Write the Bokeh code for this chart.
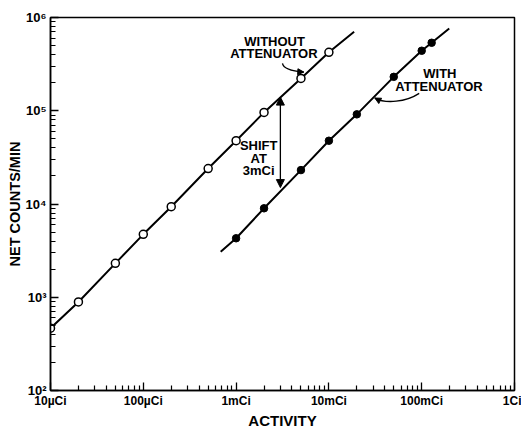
from bokeh.plotting import figure
from bokeh.models import FixedTicker, CustomJSTickFormatter, Arrow, NormalHead
from bokeh.embed import file_html
from bokeh.resources import INLINE
from bokeh.core.properties import value

# ---------------- data (activity in mCi, counts per minute) ----------------
act_without = [0.01, 0.02, 0.05, 0.1, 0.2, 0.5, 1, 2, 5, 10]
counts_without = [466, 890, 2310, 4730, 9350, 24000, 47700, 96000, 222000, 423000]

act_with = [1, 2, 5, 10, 20, 50, 100, 128]
counts_with = [4290, 8990, 23100, 47700, 91500, 231000, 440000, 536000]

# drawn curves: through the points, extended at the ends
line_without_x = act_without + [18.7]
line_without_y = counts_without + [703000]
line_with_x = [0.682] + act_with + [198]
line_with_y = [3080] + counts_with + [764000]

x_ticks = [0.01, 0.1, 1, 10, 100, 1000]
x_tick_labels = ["10µCi", "100µCi", "1mCi", "10mCi", "100mCi", "1Ci"]
y_ticks = [1e2, 1e3, 1e4, 1e5, 1e6]
y_tick_labels = ["10²", "10³", "10⁴", "10⁵", "10⁶"]

shift_at = 3          # mCi
shift_top = 1.4e5
shift_bottom = 1.5e4

FONT = "Liberation Sans"

p = figure(width=521, height=431, x_axis_type="log", y_axis_type="log",
           x_range=(0.01, 1000), y_range=(100, 1e6),
           output_backend="svg", toolbar_location=None,
           min_border_left=50, min_border_right=7, min_border_top=17,
           min_border_bottom=40)
p.grid.visible = False
p.outline_line_color = "black"
p.outline_line_width = 1.5
p.outline_line_alpha = 1.0
p.background_fill_color = "white"
p.border_fill_color = "white"

def minors(lo_exp, hi_exp):
    return [m * 10.0 ** e for e in range(lo_exp, hi_exp) for m in range(2, 10)]

p.xaxis.ticker = FixedTicker(ticks=x_ticks, minor_ticks=minors(-2, 3))
p.yaxis.ticker = FixedTicker(ticks=y_ticks, minor_ticks=minors(2, 6))

fmt_code = """
let best = 0;
for (let i = 0; i < vals.length; i++) {
  if (Math.abs(Math.log10(vals[i]) - Math.log10(tick)) <
      Math.abs(Math.log10(vals[best]) - Math.log10(tick))) best = i;
}
return labs[best];
"""
p.xaxis.formatter = CustomJSTickFormatter(args=dict(vals=x_ticks, labs=x_tick_labels), code=fmt_code)
p.yaxis.formatter = CustomJSTickFormatter(args=dict(vals=y_ticks, labs=y_tick_labels), code=fmt_code)

for ax in (p.xaxis, p.yaxis):
    ax.axis_line_width = 1.5
    ax.axis_line_color = "black"
    ax.major_tick_in = 8
    ax.major_tick_out = 0
    ax.minor_tick_in = 5
    ax.minor_tick_out = 0
    ax.major_tick_line_width = 1.3
    ax.minor_tick_line_width = 1.2
    ax.major_tick_line_color = "black"
    ax.minor_tick_line_color = "black"
    ax.major_label_text_font = FONT
    ax.major_label_text_font_style = "bold"
    ax.major_label_text_color = "black"
    ax.axis_label_text_font = FONT
    ax.axis_label_text_font_style = "bold"
    ax.axis_label_text_color = "black"
p.xaxis.major_label_text_font_size = "12px"
p.xaxis.major_label_standoff = 3
p.yaxis.major_label_text_font_size = "13px"
p.yaxis.major_label_standoff = 4
p.xaxis.axis_label = "ACTIVITY"
p.xaxis.axis_label_text_font_size = "15px"
p.xaxis.axis_label_standoff = 1
p.yaxis.axis_label = "NET COUNTS/MIN"
p.yaxis.axis_label_text_font_size = "14.5px"
p.yaxis.axis_label_standoff = 0

# ---------------- lines and points ----------------
p.line(line_without_x, line_without_y, line_color="black", line_width=2)
p.line(line_with_x, line_with_y, line_color="black", line_width=2)
p.scatter(act_without, counts_without, marker="circle", size=8,
          fill_color="white", line_color="black", line_width=1.5)
p.scatter(act_with, counts_with, marker="circle", size=7.5,
          fill_color="black", line_color="black")

# ---------------- annotations ----------------
txt = dict(text_font=value(FONT), text_font_style="bold", text_color="black",
           text_align="center", text_baseline="middle")
p.text(x=[2.6, 2.55], y=[549500, 408000], text=["WITHOUT", "ATTENUATOR"],
       text_font_size="13px", **txt)
p.text(x=[157, 153.5], y=[253600, 184000], text=["WITH", "ATTENUATOR"],
       text_font_size="13px", **txt)
p.text(x=[1.75, 1.75, 1.75], y=[42900, 31100, 22600],
       text=["SHIFT", "AT", "3mCi"], text_font_size="13px", **txt)

# shift double arrow
p.add_layout(Arrow(x_start=shift_at, y_start=shift_bottom, x_end=shift_at, y_end=shift_top,
                   line_width=1.3, line_color="black",
                   start=NormalHead(size=8, fill_color="black", line_color="black", line_width=1),
                   end=NormalHead(size=8, fill_color="black", line_color="black", line_width=1)))

# curved pointers
p.bezier(x0=[3.16], y0=[322000], x1=[5.36], y1=[260000],
         cx0=[3.22], cy0=[283000], cx1=[3.88], cy1=[266500],
         line_color="black", line_width=1.3)
p.add_layout(Arrow(x_start=4.6, y_start=262000, x_end=5.36, y_end=260000,
                   line_alpha=0,
                   end=NormalHead(size=6, fill_color="black", line_color="black", line_width=1)))
p.bezier(x0=[94], y0=[153700], x1=[31.3], y1=[136800],
         cx0=[67.6], cy0=[124000], cx1=[41.1], cy1=[118000],
         line_color="black", line_width=1.3)
p.add_layout(Arrow(x_start=36, y_start=127000, x_end=31.3, y_end=136800,
                   line_alpha=0,
                   end=NormalHead(size=6, fill_color="black", line_color="black", line_width=1)))

open("out.html", "w").write(file_html(p, INLINE))
